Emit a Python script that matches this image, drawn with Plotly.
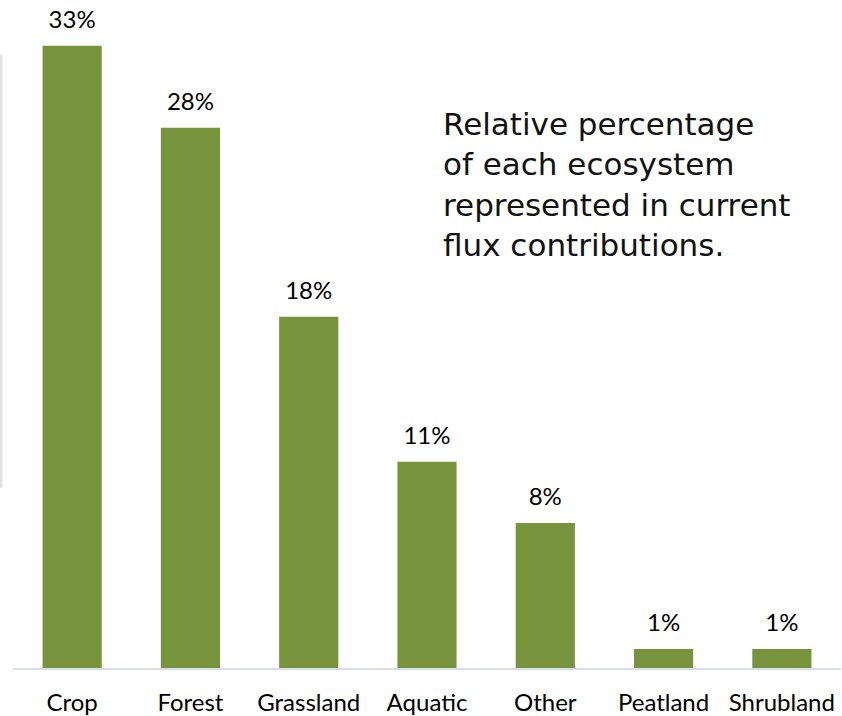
import plotly.graph_objects as go

# Ecosystem shares of current flux contributions (percent)
ecosystems = ["Crop", "Forest", "Grassland", "Aquatic", "Other", "Peatland", "Shrubland"]
shares = [32.6, 28.3, 18.4, 10.8, 7.6, 1.0, 1.0]

bar_color = "#77933C"
label_font = "Lato, Carlito, Calibri, sans-serif"

fig = go.Figure()

fig.add_trace(
    go.Bar(
        x=ecosystems,
        y=shares,
        marker=dict(color=bar_color, line=dict(width=0)),
        hoverinfo="x+y",
    )
)

# Percentage labels floating above each bar
fig.add_trace(
    go.Scatter(
        x=ecosystems,
        y=shares,
        mode="markers+text",
        text=[f"{v:.0f}%" for v in shares],
        textposition="top center",
        marker=dict(size=18, color="rgba(0,0,0,0)"),
        textfont=dict(family=label_font, size=24, color="#000000"),
        cliponaxis=False,
        hoverinfo="skip",
    )
)

fig.update_layout(
    width=842,
    height=716,
    margin=dict(l=13, r=1, t=0, b=45),
    paper_bgcolor="white",
    plot_bgcolor="white",
    bargap=0.5,
    showlegend=False,
    xaxis=dict(
        showline=True,
        linecolor="#D5DEEA",
        linewidth=1.5,
        showgrid=False,
        ticks="",
        tickfont=dict(family=label_font, size=24, color="#000000"),
        ticklabelstandoff=12,
    ),
    yaxis=dict(
        range=[0, 35],
        visible=False,
        showgrid=False,
        zeroline=False,
    ),
    annotations=[
        dict(
            text="Relative percentage<br>of each ecosystem<br>represented in current<br>flux contributions.",
            xref="paper",
            yref="paper",
            x=(441 - 13) / 828,
            y=1 - 104 / 671,
            xanchor="left",
            yanchor="top",
            align="left",
            showarrow=False,
            font=dict(family="DejaVu Sans, sans-serif", size=31, color="#111111"),
        )
    ],
    shapes=[
        dict(
            type="line",
            xref="paper",
            yref="paper",
            x0=-12 / 828,
            x1=-12 / 828,
            y0=1 - 55 / 671,
            y1=1 - 490 / 671,
            line=dict(color="#E2E2E2", width=3),
        )
    ],
)

fig.write_html("out.html")
